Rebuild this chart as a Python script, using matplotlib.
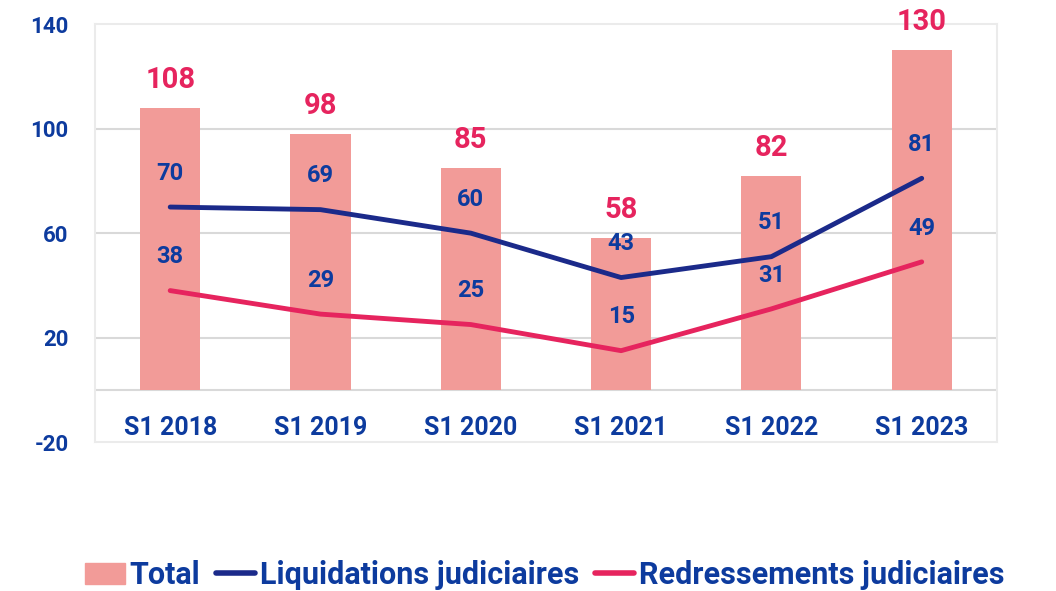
import matplotlib.pyplot as plt
from matplotlib.patches import Patch
from matplotlib.lines import Line2D

categories = ["S1 2018", "S1 2019", "S1 2020", "S1 2021", "S1 2022", "S1 2023"]
total = [108, 98, 85, 58, 82, 130]
liquidations = [70, 69, 60, 43, 51, 81]
redressements = [38, 29, 25, 15, 31, 49]

BAR = "#F29B98"
NAVY = "#1B2A8A"
PINK = "#E6245E"
TXT = "#0D3B9E"
GRID = "#D9D9D9"

plt.rcParams["font.family"] = ["Roboto", "DejaVu Sans"]
plt.rcParams["font.weight"] = "bold"
plt.rcParams["axes.unicode_minus"] = False

fig = plt.figure(figsize=(10.56, 5.91), dpi=100)
ax = fig.add_axes([0.090, 0.252, 0.854, 0.707])

x = list(range(len(categories)))
ax.bar(x, total, width=0.4, color=BAR, zorder=2)
ax.plot(x, liquidations, color=NAVY, lw=3.5, solid_capstyle="round", zorder=3)
ax.plot(x, redressements, color=PINK, lw=3.5, solid_capstyle="round", zorder=3)

for xi, v in zip(x, total):
    ax.annotate(str(v), (xi, v), xytext=(0, 10), textcoords="offset points",
                ha="center", va="bottom", color=PINK, fontsize=21, fontweight="bold")
for series in (liquidations, redressements):
    for xi, v in zip(x, series):
        ax.annotate(str(v), (xi, v), xytext=(0, 16), textcoords="offset points",
                    ha="center", va="bottom", color=TXT, fontsize=17, fontweight="bold")

ax.set_xlim(-0.5, len(categories) - 0.5)
ax.set_ylim(-20, 140)
ax.set_yticks([-20, 20, 60, 100, 140])
ax.set_xticks(x)
ax.set_xticklabels(categories)
ax.tick_params(axis="x", length=0, pad=-19, labelsize=18, labelcolor=TXT)
ax.tick_params(axis="y", length=0, pad=19, labelsize=16, labelcolor=TXT)

for y in (20, 60, 100):
    ax.axhline(y, color=GRID, lw=1.5, zorder=1)
ax.axhline(0, color=GRID, lw=1.5, zorder=1)
for s in ax.spines.values():
    s.set_color("#EBEBEB")
    s.set_linewidth(1.5)

handles = [Patch(color=BAR),
           Line2D([], [], color=NAVY, lw=4, solid_capstyle="round"),
           Line2D([], [], color=PINK, lw=4, solid_capstyle="round")]
labels = ["Total", "Liquidations judiciaires", "Redressements judiciaires"]
fig.legend(handles, labels, loc="center", bbox_to_anchor=(0.516, 0.027), ncol=3,
           frameon=False, handlelength=1.3, handletextpad=0.15, columnspacing=0.5,
           prop={"size": 22, "weight": "bold"}, labelcolor=TXT)

fig.savefig("out.png", dpi=100)
